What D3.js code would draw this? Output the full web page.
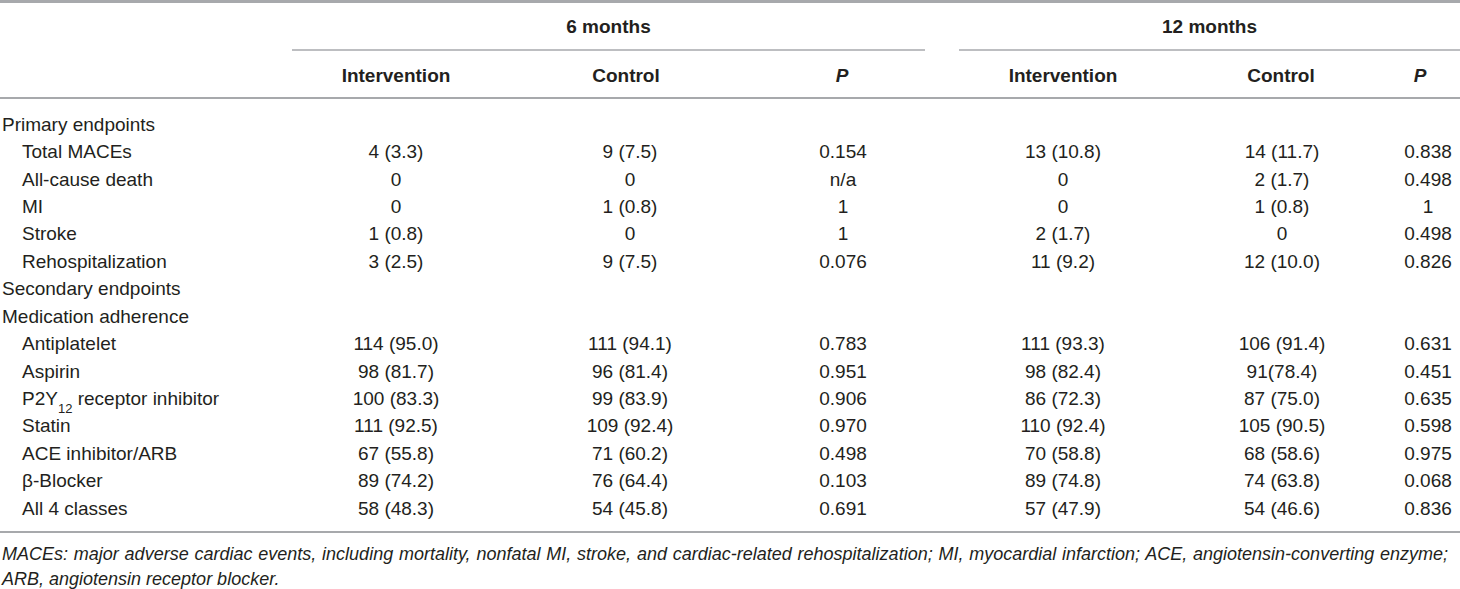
<!DOCTYPE html>
<html>
<head>
<meta charset="utf-8">
<script src="https://cdn.jsdelivr.net/npm/d3@7"></script>
<style>
  body { margin: 0; background: #fff; }
  svg text { font-family: "Liberation Sans", Arial, sans-serif; fill: #231f20; }
</style>
</head>
<body>
<svg id="tbl" width="1460" height="589"></svg>
<script>
// table data
var periods = ["6 months", "12 months"];
var colHeads = ["Intervention", "Control", "P", "Intervention", "Control", "P"];

var rowLabels = ["Primary endpoints", "Total MACEs", "All-cause death", "MI", "Stroke", "Rehospitalization",
  "Secondary endpoints", "Medication adherence", "Antiplatelet", "Aspirin", "P2Y12 receptor inhibitor",
  "Statin", "ACE inhibitor/ARB", "β-Blocker", "All 4 classes"];
var rowLevel = [0, 1, 1, 1, 1, 1, 0, 0, 1, 1, 1, 1, 1, 1, 1];

var interv6 = ["", "4 (3.3)", "0", "0", "1 (0.8)", "3 (2.5)", "", "", "114 (95.0)", "98 (81.7)", "100 (83.3)", "111 (92.5)", "67 (55.8)", "89 (74.2)", "58 (48.3)"];
var control6 = ["", "9 (7.5)", "0", "1 (0.8)", "0", "9 (7.5)", "", "", "111 (94.1)", "96 (81.4)", "99 (83.9)", "109 (92.4)", "71 (60.2)", "76 (64.4)", "54 (45.8)"];
var p6 = ["", "0.154", "n/a", "1", "1", "0.076", "", "", "0.783", "0.951", "0.906", "0.970", "0.498", "0.103", "0.691"];
var interv12 = ["", "13 (10.8)", "0", "0", "2 (1.7)", "11 (9.2)", "", "", "111 (93.3)", "98 (82.4)", "86 (72.3)", "110 (92.4)", "70 (58.8)", "89 (74.8)", "57 (47.9)"];
var control12 = ["", "14 (11.7)", "2 (1.7)", "1 (0.8)", "0", "12 (10.0)", "", "", "106 (91.4)", "91(78.4)", "87 (75.0)", "105 (90.5)", "68 (58.6)", "74 (63.8)", "54 (46.6)"];
var p12 = ["", "0.838", "0.498", "1", "0.498", "0.826", "", "", "0.631", "0.451", "0.635", "0.598", "0.975", "0.068", "0.836"];

var footnote = ["MACEs: major adverse cardiac events, including mortality, nonfatal MI, stroke, and cardiac-related rehospitalization; MI, myocardial infarction; ACE, angiotensin-converting enzyme;",
  "ARB, angiotensin receptor blocker."];

var svg = d3.select("#tbl");
var ruleColor = "#a7a9ac";
var fs = 19;

// column x positions
var colX = d3.scaleOrdinal().domain(d3.range(6)).range([396, 630, 843, 1063, 1282, 1428]);
var headX = d3.scaleOrdinal().domain(d3.range(6)).range([396, 626, 842, 1063, 1281, 1420]);
var spanX = [[292, 925], [959, 1460]];
var y = d3.scalePoint().domain(d3.range(rowLabels.length)).range([124, 508]);

function rule(x1, x2, yy, w) {
  svg.append("line").attr("x1", x1).attr("x2", x2).attr("y1", yy).attr("y2", yy)
    .style("stroke", ruleColor).style("stroke-width", w);
}

rule(0, 1460, 1.5, 3);
spanX.forEach(function(s){ rule(s[0], s[1], 50, 1.5); });
rule(0, 1460, 98, 2);
rule(0, 1460, 532, 2);

// period headers
svg.selectAll("text.period").data(periods).enter().append("text")
  .attr("class", "period")
  .attr("x", function(d, i){ return (spanX[i][0] + spanX[i][1]) / 2; })
  .attr("y", 26).attr("dy", "0.35em")
  .attr("text-anchor", "middle")
  .style("font-size", fs + "px").style("font-weight", "bold")
  .text(function(d){ return d; });

svg.selectAll("text.colhead").data(colHeads).enter().append("text")
  .attr("class", "colhead")
  .attr("x", function(d, i){ return headX(i); })
  .attr("y", 75).attr("dy", "0.35em")
  .attr("text-anchor", "middle")
  .style("font-size", fs + "px").style("font-weight", "bold")
  .style("font-style", function(d){ return d == "P" ? "italic" : "normal"; })
  .text(function(d){ return d; });

// row labels
var lab = svg.selectAll("text.rowlab").data(rowLabels).enter().append("text")
  .attr("class", "rowlab")
  .attr("x", function(d, i){ return rowLevel[i] ? 22 : 2; })
  .attr("y", function(d, i){ return y(i); }).attr("dy", "0.35em")
  .style("font-size", fs + "px");

lab.each(function(d){
  var t = d3.select(this);
  if (d.indexOf("P2Y12") == 0) {
    t.append("tspan").text("P2Y");
    t.append("tspan").attr("baseline-shift", "sub").style("font-size", "13px").text("12");
    t.append("tspan").text(d.slice(5));
  } else {
    t.text(d);
  }
});

// cells
var cols = [interv6, control6, p6, interv12, control12, p12];
cols.forEach(function(col, c){
  svg.selectAll("text.c" + c).data(col).enter().append("text")
    .attr("class", "c" + c)
    .attr("x", colX(c))
    .attr("y", function(d, i){ return y(i); }).attr("dy", "0.35em")
    .attr("text-anchor", "middle")
    .style("font-size", fs + "px")
    .text(function(d){ return d; });
});

// footnote, first line justified to full width
svg.selectAll("text.foot").data(footnote).enter().append("text")
  .attr("class", "foot")
  .attr("x", 2)
  .attr("y", function(d, i){ return 554 + i * 25; }).attr("dy", "0.35em")
  .style("font-size", "18px").style("font-style", "italic")
  .text(function(d){ return d; })
  .each(function(d, i){
    if (i > 0) return;
    var len = this.getComputedTextLength();
    var gaps = d.split(" ").length - 1;
    var ws = Math.max(0, (1446 - len) / gaps);
    d3.select(this).style("word-spacing", ws + "px");
  });
</script>
</body>
</html>
